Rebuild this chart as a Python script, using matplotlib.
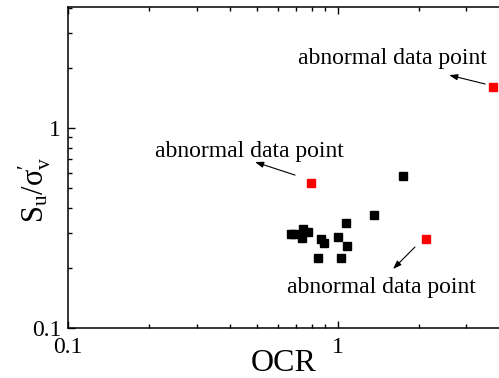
import matplotlib
matplotlib.use("Agg")
import matplotlib.pyplot as plt

# normal data points (OCR, Su/sigma'v)
ocr_normal = [0.669, 0.689, 0.746, 0.778, 0.736, 0.865, 0.887, 1.0, 1.074, 1.367, 1.085, 0.843, 1.031, 1.75]
su_normal = [0.294, 0.295, 0.313, 0.302, 0.281, 0.278, 0.267, 0.284, 0.336, 0.367, 0.257, 0.224, 0.224, 0.578]

# abnormal data points
ocr_abnormal = [0.794, 2.12, 3.77]
su_abnormal = [0.534, 0.280, 1.61]

# annotation text centres and arrow (tail -> head), data coords
label_text = "abnormal data point"
text_xy = [(1.59, 2.25), (0.471, 0.77), (1.454, 0.16)]
arrow_tail = [(3.52, 1.67), (0.695, 0.583), (1.935, 0.254)]
arrow_head = [(2.59, 1.85), (0.494, 0.678), (1.604, 0.197)]

plt.rcParams['font.family'] = ['Liberation Serif', 'DejaVu Serif']
plt.rcParams['mathtext.fontset'] = 'custom'
plt.rcParams['mathtext.rm'] = 'Liberation Serif'
plt.rcParams['mathtext.it'] = 'Liberation Serif:italic'

fig = plt.figure(figsize=(4.99, 3.78), dpi=100)
# axes run a little past the right edge of the image (right spine cut off)
ax = fig.add_axes([68 / 499, 1 - 327.7 / 378, 436 / 499, 320.4 / 378])

ax.plot(ocr_normal, su_normal, 's', color='black', markersize=5.2, linestyle='none')
ax.plot(ocr_abnormal, su_abnormal, 's', color='#ff0000', markersize=5.2, linestyle='none')

for txy in text_xy:
    ax.text(txy[0], txy[1], label_text, ha='center', va='center', fontsize=17)
for tail, head in zip(arrow_tail, arrow_head):
    ax.annotate('', xy=head, xytext=tail,
                arrowprops=dict(arrowstyle='-|>,head_length=0.5,head_width=0.18',
                                color='black', lw=0.8, shrinkA=0, shrinkB=0))

ax.set_xscale('log')
ax.set_yscale('log')
ax.set_xlim(0.1, 4.137)
ax.set_ylim(0.1, 4.05)
ax.set_xticks([0.1, 1])
ax.set_xticklabels(['0.1', '1'])
ax.set_yticks([0.1, 1])
ax.set_yticklabels(['0.1', '1'])

ax.tick_params(which='both', direction='in', top=True, right=False, labelsize=17, width=1.0)
ax.tick_params(which='major', length=5)
ax.tick_params(which='minor', length=3)
ax.tick_params(axis='x', which='major', pad=6.5)
ax.tick_params(axis='y', which='major', pad=5)
for sp in ax.spines.values():
    sp.set_linewidth(1.1)

ax.set_xlabel('OCR', fontsize=23)
ax.xaxis.set_label_coords(0.495, -0.065)
ax.set_ylabel(r"$\mathrm{S_u/\sigma^{\prime}_v}$", fontsize=22)
ax.yaxis.set_label_coords(-0.035, 0.43)

fig.savefig('out.png', dpi=100)
